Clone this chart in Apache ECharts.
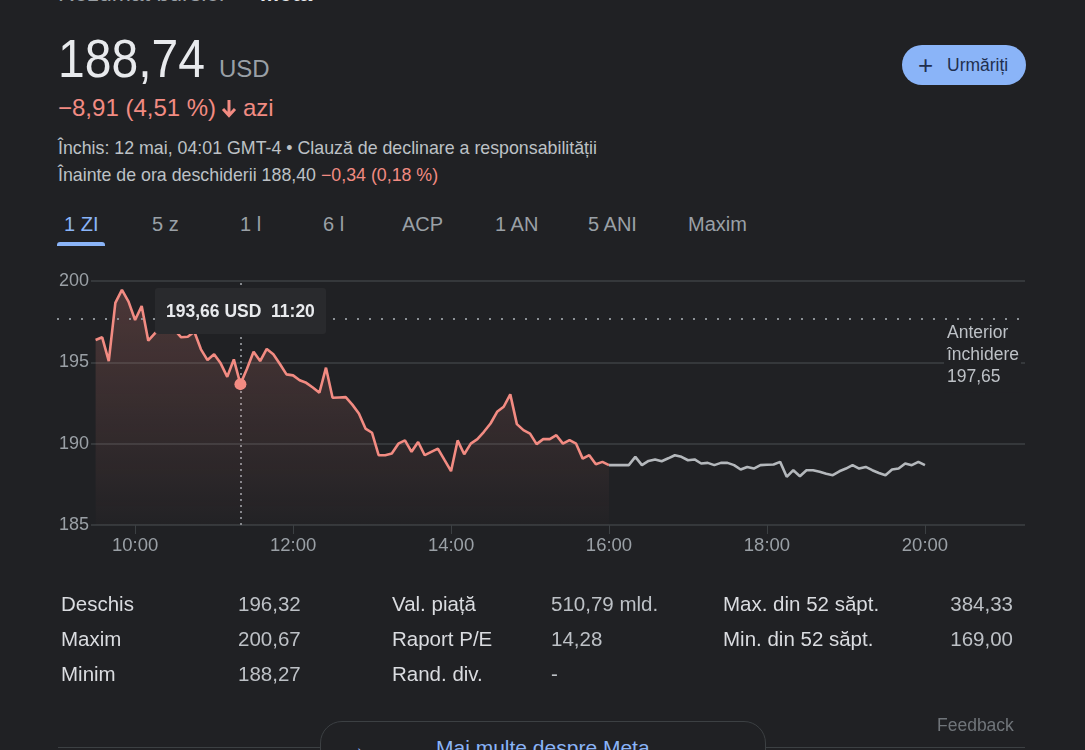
<!DOCTYPE html>
<html>
<head>
<meta charset="utf-8">
<script src="https://cdn.jsdelivr.net/npm/echarts@6/dist/echarts.min.js"></script>
<style>
  html, body { margin:0; padding:0; background:#202124; }
  body { width:1085px; height:750px; overflow:hidden; position:relative; font-family:'Liberation Sans', Arial, sans-serif; color:#e8eaed; }
  .abs { position:absolute; white-space:nowrap; }
  #chart { position:absolute; left:0; top:0; width:1085px; height:750px; }
  .grey { color:#bdc1c6; }
  .red { color:#f28b82; }
  .tab { position:absolute; top:212px; font-size:20px; color:#9aa0a6; line-height:24px; }
  .lbl { position:absolute; font-size:20.5px; color:#dadce0; line-height:24px; }
  .val { position:absolute; font-size:20.5px; color:#bdc1c6; line-height:24px; }
</style>
</head>
<body>
<div class="abs" style="left:58px; top:-18px; font-size:23px; line-height:23px; color:#9aa0a6;">Rezumat bursier</div>
<div class="abs" style="left:243px; top:-18px; font-size:23px; line-height:23px; color:#9aa0a6;">•</div>
<div class="abs" style="left:260px; top:-18px; font-size:23px; line-height:23px; color:#e8eaed; font-weight:bold;">Meta</div>

<div class="abs" style="left:58px; top:28px; font-size:54px; line-height:60px; color:#e8eaed; transform:scaleX(0.89); transform-origin:left top;">188,74</div>
<div class="abs" style="left:219px; top:55px; font-size:24px; line-height:28px; color:#9aa0a6;">USD</div>

<div class="abs red" style="left:58px; top:94px; font-size:24px; line-height:28px;">−8,91 (4,51 %)</div>
<svg class="abs" style="left:221px; top:99px;" width="16" height="19" viewBox="0 0 16 19">
  <path d="M8 1 V16 M2 10 L8 16.5 L14 10" stroke="#f28b82" stroke-width="3" fill="none" stroke-linecap="butt" stroke-linejoin="miter"/>
</svg>
<div class="abs red" style="left:243px; top:94px; font-size:24px; line-height:28px;">azi</div>
<div class="abs grey" style="left:58px; top:138px; font-size:17.8px; line-height:20px;">Închis: 12 mai, 04:01 GMT-4 • Clauză de declinare a responsabilității</div>
<div class="abs grey" style="left:58px; top:165px; font-size:17.8px; line-height:20px;">Înainte de ora deschiderii 188,40 <span class="red">−0,34 (0,18 %)</span></div>

<div class="abs" style="left:902px; top:45px; width:124px; height:40px; border-radius:20px; background:#8ab4f8; color:#1f2f4f; font-size:17.5px; line-height:40px;">
  <span style="position:absolute; left:16px; top:0; font-size:26px; font-weight:300;">+</span>
  <span style="position:absolute; left:45px; top:0;">Urmăriți</span>
</div>

<div class="tab" style="left:64px; color:#8ab4f8;">1 ZI</div>
<div class="abs" style="left:57px; top:242px; width:48px; height:4px; background:#8ab4f8; border-radius:3px 3px 0 0;"></div>
<div class="tab" style="left:152px;">5 z</div>
<div class="tab" style="left:240px;">1 l</div>
<div class="tab" style="left:323px;">6 l</div>
<div class="tab" style="left:402px;">ACP</div>
<div class="tab" style="left:495px;">1 AN</div>
<div class="tab" style="left:588px;">5 ANI</div>
<div class="tab" style="left:688px;">Maxim</div>

<div id="chart"></div>

<div class="lbl" style="left:61px; top:592px;">Deschis</div>
<div class="val" style="left:238px; top:592px;">196,32</div>
<div class="lbl" style="left:61px; top:627px;">Maxim</div>
<div class="val" style="left:238px; top:627px;">200,67</div>
<div class="lbl" style="left:61px; top:662px;">Minim</div>
<div class="val" style="left:238px; top:662px;">188,27</div>

<div class="lbl" style="left:392px; top:592px;">Val. piață</div>
<div class="val" style="left:551px; top:592px;">510,79 mld.</div>
<div class="lbl" style="left:392px; top:627px;">Raport P/E</div>
<div class="val" style="left:551px; top:627px;">14,28</div>
<div class="lbl" style="left:392px; top:662px;">Rand. div.</div>
<div class="val" style="left:551px; top:662px;">-</div>

<div class="lbl" style="left:723px; top:592px;">Max. din 52 săpt.</div>
<div class="val" style="right:72px; top:592px;">384,33</div>
<div class="lbl" style="left:723px; top:627px;">Min. din 52 săpt.</div>
<div class="val" style="right:72px; top:627px;">169,00</div>

<div class="abs" style="left:937px; top:715px; font-size:17.5px; line-height:20px; color:#70757a;">Feedback</div>
<div class="abs" style="left:58px; top:747px; width:967px; height:1px; background:#3c4043;"></div>
<div class="abs" style="left:320px; top:721px; width:444px; height:60px; border:1px solid #3c4043; border-radius:22px; background:#202124;">
  <span style="position:absolute; left:22px; top:11px; font-size:24px; color:#8ab4f8;">→</span>
  <span style="position:absolute; left:115px; top:14px; font-size:21px; color:#8ab4f8;">Mai multe despre Meta</span>
</div>

<script>
// ---- data ----
const startMinute = 570;          // 9:30
const stepMinutes = 5;
const afterHoursStart = 960;      // 16:00
const previousClose = 197.65;
const yTicks = [185, 190, 195, 200];
const xTickMinutes = [600, 720, 840, 960, 1080, 1200];
const highlightTime = '11:20';

const regularPrices = [
  196.37, 196.54, 195.08, 198.66, 199.45, 198.73,
  197.60, 198.46, 196.33, 196.78, 197.10, 197.30, 197.00, 196.54, 196.57, 196.88, 195.80, 195.14,
  195.50, 194.94, 194.11, 195.18, 193.66, 194.60, 195.65, 195.08, 195.82, 195.50, 194.90, 194.26,
  194.20, 193.90, 193.74, 193.45, 193.13, 194.67, 192.82, 192.84, 192.86, 192.40, 191.86, 190.93,
  190.67, 189.29, 189.29, 189.39, 190.00, 190.20, 189.50, 190.10, 189.29, 189.50, 189.70, 189.00,
  188.31, 190.20, 189.35, 190.00, 190.28, 190.73, 191.24, 191.96, 192.27, 193.03, 191.20, 190.83,
  190.62, 189.97, 190.28, 190.28, 190.52, 190.00, 190.22, 190.00, 189.08, 189.29, 188.74, 188.88,
  188.68
];
const afterHoursPrices = [
  188.68, 188.68, 188.68, 188.68, 189.19, 188.68, 188.94, 189.03, 188.92, 189.10, 189.29, 189.19,
  188.98, 189.03, 188.78, 188.82, 188.68, 188.82, 188.82, 188.68, 188.41, 188.57, 188.47, 188.68,
  188.70, 188.72, 188.88, 187.96, 188.37, 188.00, 188.37, 188.37, 188.27, 188.15, 188.06, 188.30,
  188.47, 188.68, 188.47, 188.57, 188.37, 188.20, 188.06, 188.41, 188.47, 188.78, 188.68, 188.88,
  188.68
];

// ---- helpers ----
function fmtTime(m) {
  const h = Math.floor(m / 60), mm = Math.round(m % 60);
  return h + ':' + (mm < 10 ? '0' : '') + mm;
}
function fmtTimeAxis(m) {
  const h = Math.floor(m / 60), mm = Math.round(m % 60);
  return (h < 10 ? '0' : '') + h + ':' + (mm < 10 ? '0' : '') + mm;
}
function fmtPrice(v) { return v.toFixed(2).replace('.', ','); }

const regularData = regularPrices.map((v, i) => [startMinute + i * stepMinutes, v]);
const afterData = afterHoursPrices.map((v, i) => [afterHoursStart + i * stepMinutes, v]);
const hlIndex = regularData.findIndex(d => fmtTime(d[0]) === highlightTime);

const FONT = "'Liberation Sans', Arial, sans-serif";
const chart = echarts.init(document.getElementById('chart'), null, { renderer: 'canvas' });

chart.setOption({
  backgroundColor: 'transparent',
  animation: false,
  textStyle: { fontFamily: FONT },
  grid: [
    { left: 91, right: 60, top: 281, bottom: 225 },
    { left: 57, right: 63, top: 281, bottom: 225 }
  ],
  xAxis: [
    {
      type: 'value', gridIndex: 0,
      min: 566.5, max: 1276,
      splitLine: { show: false },
      axisLine: { show: false },
      axisTick: { show: true, customValues: xTickMinutes, length: 9, lineStyle: { color: '#3c4043', width: 1 } },
      axisLabel: { customValues: xTickMinutes, formatter: v => fmtTimeAxis(v), color: '#9aa0a6', fontSize: 18.5, margin: 11, fontFamily: FONT }
    },
    { type: 'value', gridIndex: 1, min: 0, max: 1, show: false }
  ],
  yAxis: [
    {
      type: 'value', gridIndex: 0,
      min: yTicks[0], max: yTicks[yTicks.length - 1], interval: 5,
      axisLine: { show: false }, axisTick: { show: false },
      splitLine: { lineStyle: { color: '#3c4043', width: 1.5 } },
      axisLabel: { color: '#9aa0a6', fontSize: 18, margin: 2, fontFamily: FONT }
    },
    { type: 'value', gridIndex: 1, min: yTicks[0], max: yTicks[yTicks.length - 1], show: false }
  ],
  tooltip: {
    trigger: 'axis',
    triggerOn: 'none',
    alwaysShowContent: true,
    transitionDuration: 0,
    backgroundColor: '#292a2d',
    borderWidth: 0,
    padding: [10, 11],
    extraCssText: 'box-shadow:none;border-radius:3px;',
    textStyle: { color: '#e8eaed', fontSize: 17.5, fontFamily: FONT, fontWeight: 'bold' },
    axisPointer: { type: 'line', lineStyle: { color: '#8a8f94', width: 1.5, type: [2, 4] }, z: 1 },
    position: function (point, params, dom, rect, size) {
      return [point[0] - size.contentSize[0] / 2, 288];
    },
    formatter: function (params) {
      const p = params.find(q => q.seriesIndex === 0) || params[0];
      return fmtPrice(p.value[1]) + ' USD&nbsp;&nbsp;' + fmtTime(p.value[0]);
    }
  },
  series: [
    {
      type: 'line', xAxisIndex: 0, yAxisIndex: 0,
      data: regularData,
      symbol: 'none',
      lineStyle: { color: '#f28b82', width: 2.6 },
      itemStyle: { color: '#f28b82' },
      areaStyle: {
        origin: 'start',
        color: new echarts.graphic.LinearGradient(0, 0, 0, 1, [
          { offset: 0, color: 'rgba(242,139,130,0.30)' },
          { offset: 1, color: 'rgba(242,139,130,0.02)' }
        ])
      },
      markPoint: {
        symbol: 'circle', symbolSize: 12,
        itemStyle: { color: '#f28b82' },
        label: { show: false },
        data: [{ coord: regularData[hlIndex] }]
      },
      emphasis: { disabled: true },
      z: 3
    },
    {
      type: 'line', xAxisIndex: 0, yAxisIndex: 0,
      data: afterData,
      symbol: 'none',
      lineStyle: { color: '#b4b8bc', width: 2.6 },
      itemStyle: { color: '#b4b8bc' },
      emphasis: { disabled: true },
      z: 3
    },
    {
      type: 'line', xAxisIndex: 1, yAxisIndex: 1,
      data: [],
      symbol: 'none',
      tooltip: { show: false },
      markLine: {
        silent: true,
        symbol: ['none', 'none'],
        lineStyle: { color: '#8a8f94', width: 2, type: [2, 10] },
        label: {
          show: true,
          position: 'insideEndBottom',
          distance: 1,
          backgroundColor: '#202124',
          padding: [2, 0, 4, 3],
          formatter: '{a|Anterior}\n{a|închidere}\n{a|' + fmtPrice(previousClose) + '}',
          rich: { a: { width: 74, align: 'left', color: '#bdc1c6', fontSize: 17.5, lineHeight: 22, fontFamily: FONT } }
        },
        data: [{ yAxis: previousClose }]
      },
      z: 2
    }
  ]
});

chart.dispatchAction({ type: 'showTip', seriesIndex: 0, dataIndex: hlIndex });
</script>
</body>
</html>
